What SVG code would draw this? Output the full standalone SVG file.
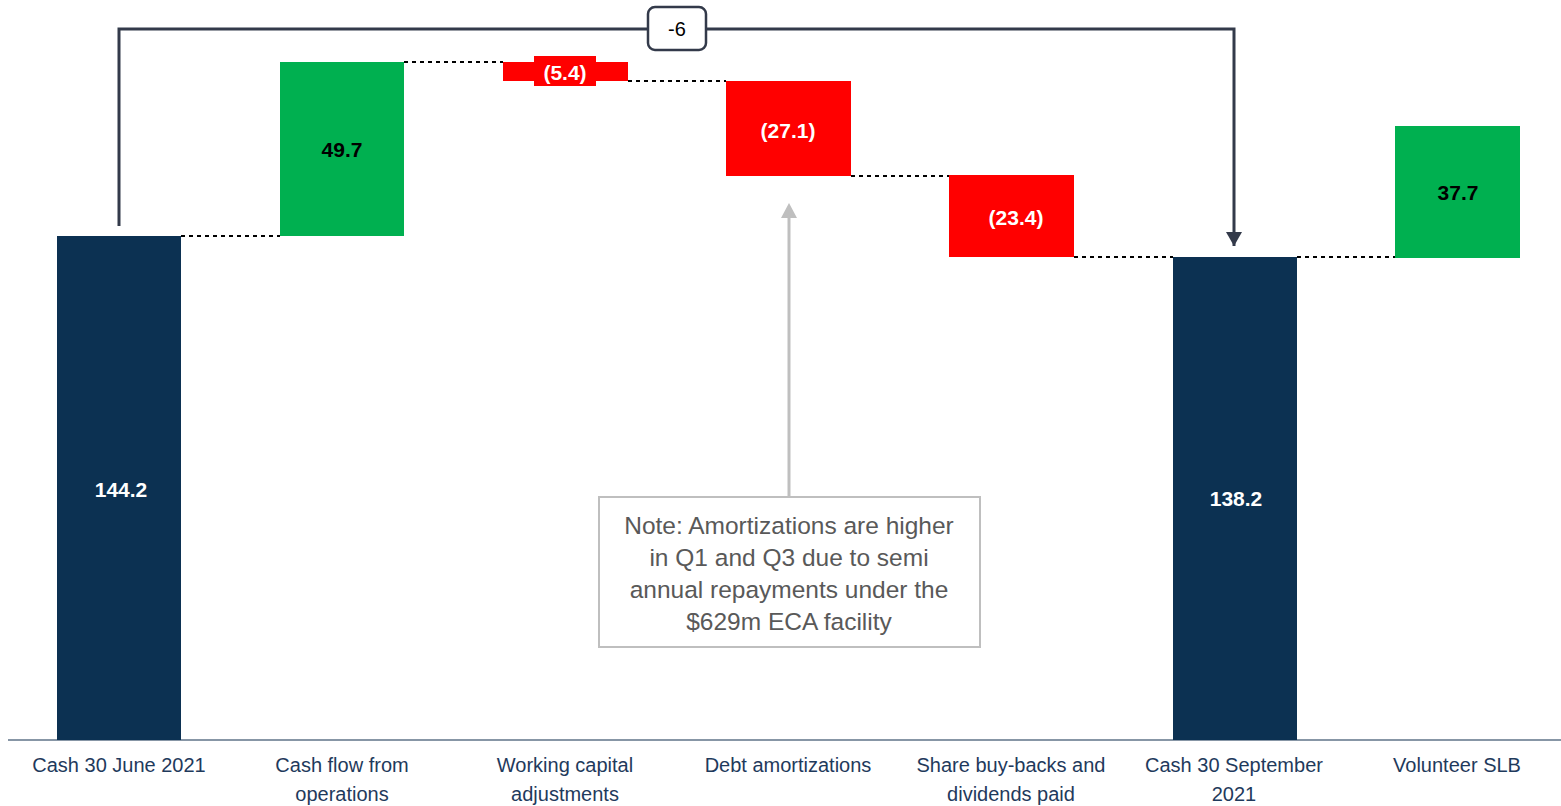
<svg xmlns="http://www.w3.org/2000/svg" width="1561" height="806" viewBox="0 0 1561 806">
  <defs>
    <style>
      .navy { fill: #0c3152; }
      .green { fill: #00b050; }
      .red { fill: #ff0000; }
      .val { font-family: "Liberation Sans", Arial, sans-serif; font-size: 21px; font-weight: bold; text-anchor: middle; dominant-baseline: central; }
      .white { fill: #ffffff; }
      .black { fill: #000000; }
      .cat { font-family: "Liberation Sans", Arial, sans-serif; font-size: 20px; fill: #1f3a5c; text-anchor: middle; }
      .note { font-family: "Liberation Sans", Arial, sans-serif; font-size: 24.5px; fill: #595959; text-anchor: middle; }
      .dots { stroke: #000000; stroke-width: 2; stroke-dasharray: 4 4; fill: none; }
    </style>
    <marker id="arrowDark" markerWidth="16" markerHeight="14" refX="8" refY="14" orient="0" markerUnits="userSpaceOnUse">
      <path d="M0,0 L16,0 L8,14 Z" fill="#333a4a"/>
    </marker>
  </defs>

  <rect width="1561" height="806" fill="#ffffff"/>

  <!-- dotted step lines between bars -->
  <g id="connectors">
    <line class="dots" x1="181" y1="236" x2="280" y2="236"/>
    <line class="dots" x1="404" y1="62" x2="503" y2="62"/>
    <line class="dots" x1="628" y1="81" x2="726" y2="81"/>
    <line class="dots" x1="851" y1="176" x2="949" y2="176"/>
    <line class="dots" x1="1074" y1="257" x2="1173" y2="257"/>
    <line class="dots" x1="1297" y1="257" x2="1395" y2="257"/>

    <!-- bracket showing net change -->
    <path d="M119,226 L119,29 L1234,29 L1234,246" fill="none" stroke="#333a4a" stroke-width="3" marker-end="url(#arrowDark)"/>

    <!-- note pointer -->
    <line x1="789" y1="497" x2="789" y2="216" stroke="#bfbfbf" stroke-width="3"/>
    <path d="M781,218 L797,218 L789,203 Z" fill="#bfbfbf"/>
  </g>

  <!-- axis -->
  <line x1="8" y1="740" x2="1561" y2="740" stroke="#8796a6" stroke-width="2"/>

  <g id="bar-cash-june">
    <rect class="navy" x="57" y="236" width="124" height="504"/>
    <text class="val white" x="121" y="489">144.2</text>
    <text class="cat" x="119" y="772">Cash 30 June 2021</text>
  </g>

  <g id="bar-cash-flow-ops">
    <rect class="green" x="280" y="62" width="124" height="174"/>
    <text class="val black" x="342" y="149">49.7</text>
    <text class="cat" x="342" y="772">Cash flow from</text>
    <text class="cat" x="342" y="801">operations</text>
  </g>

  <g id="bar-working-capital">
    <rect class="red" x="503" y="62" width="125" height="19"/>
    <rect class="red" x="534" y="56" width="62" height="30"/>
    <text class="val white" x="565" y="72">(5.4)</text>
    <text class="cat" x="565" y="772">Working capital</text>
    <text class="cat" x="565" y="801">adjustments</text>
  </g>

  <g id="bar-debt-amortizations">
    <rect class="red" x="726" y="81" width="125" height="95"/>
    <text class="val white" x="788" y="130">(27.1)</text>
    <text class="cat" x="788" y="772">Debt amortizations</text>
  </g>

  <g id="bar-buybacks-dividends">
    <rect class="red" x="949" y="175" width="125" height="82"/>
    <text class="val white" x="1016" y="217">(23.4)</text>
    <text class="cat" x="1011" y="772">Share buy-backs and</text>
    <text class="cat" x="1011" y="801">dividends paid</text>
  </g>

  <g id="bar-cash-september">
    <rect class="navy" x="1173" y="257" width="124" height="483"/>
    <text class="val white" x="1236" y="498">138.2</text>
    <text class="cat" x="1234" y="772">Cash 30 September</text>
    <text class="cat" x="1234" y="801">2021</text>
  </g>

  <g id="bar-volunteer-slb">
    <rect class="green" x="1395" y="126" width="125" height="132"/>
    <text class="val black" x="1458" y="192">37.7</text>
    <text class="cat" x="1457" y="772">Volunteer SLB</text>
  </g>

  <g id="change-label">
    <rect x="648" y="7" width="58" height="43" rx="7" ry="7" fill="#ffffff" stroke="#333a4a" stroke-width="2.5"/>
    <text x="677" y="29" font-family="Liberation Sans, Arial, sans-serif" font-size="20" fill="#000000" text-anchor="middle" dominant-baseline="central">-6</text>
  </g>

  <g id="note">
    <rect x="599" y="497" width="381" height="150" fill="#ffffff" stroke="#bfbfbf" stroke-width="2"/>
    <text class="note" x="789" y="534">Note: Amortizations are higher</text>
    <text class="note" x="789" y="566">in Q1 and Q3 due to semi</text>
    <text class="note" x="789" y="598">annual repayments under the</text>
    <text class="note" x="789" y="630">$629m ECA facility</text>
  </g>
</svg>
